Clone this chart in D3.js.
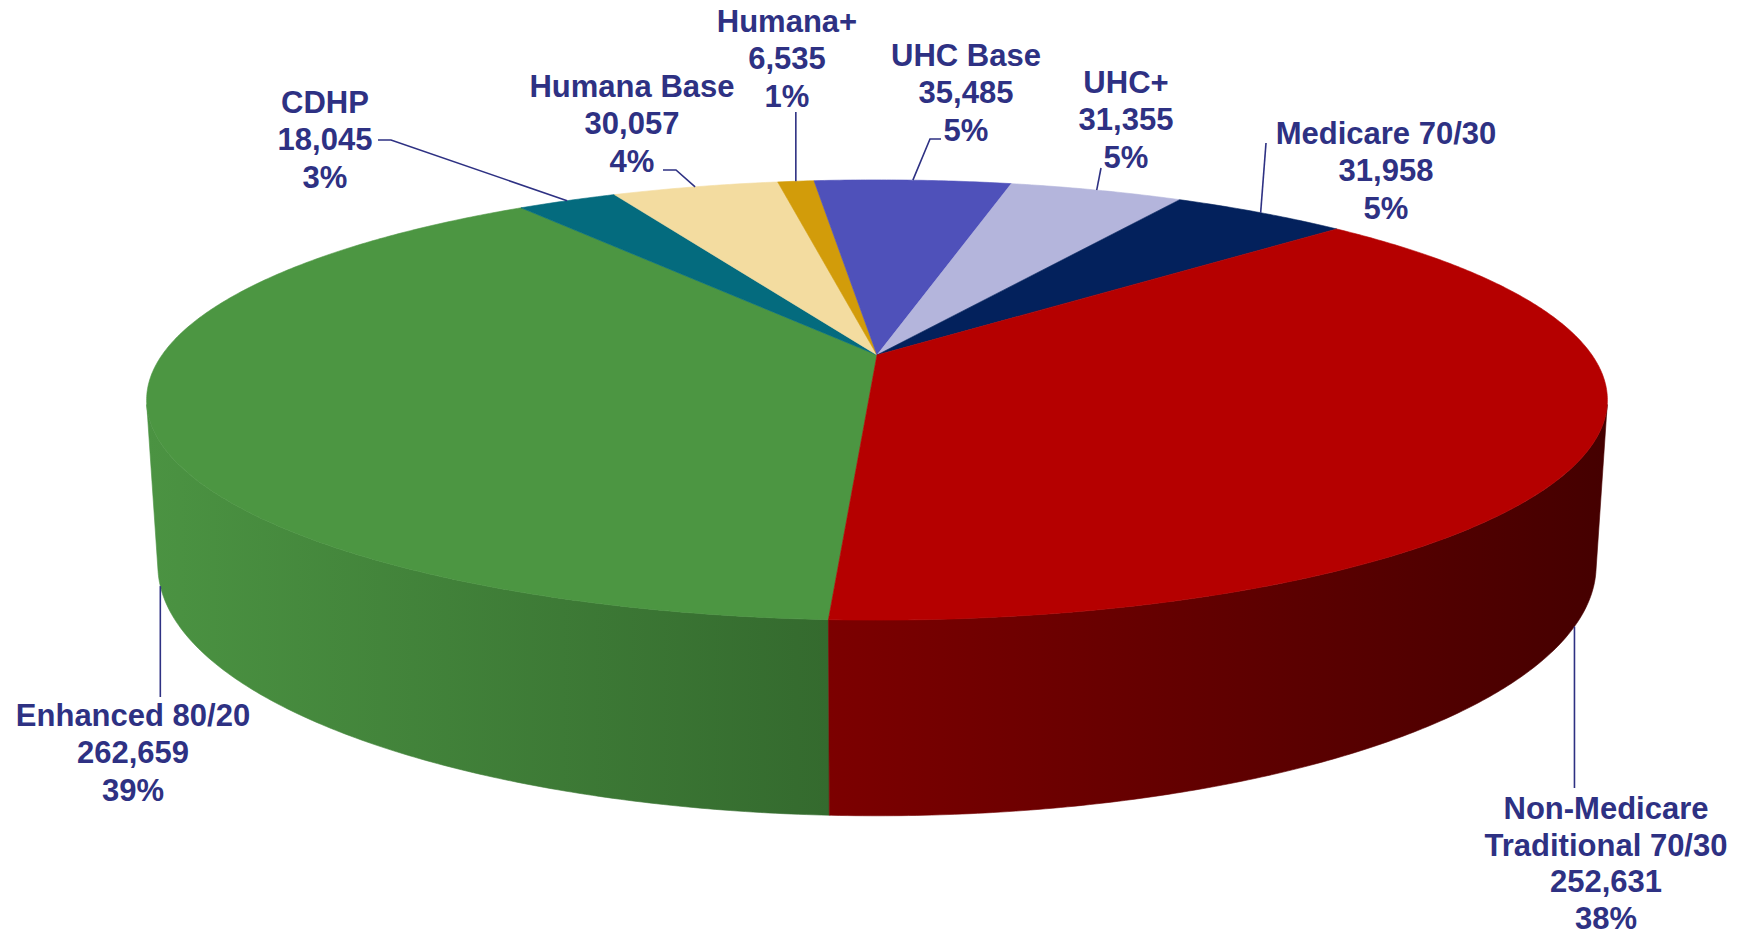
<!DOCTYPE html>
<html>
<head>
<meta charset="utf-8">
<script src="https://cdn.jsdelivr.net/npm/d3@7"></script>
<style>
  body { margin: 0; background: #fff; }
  text { font-family: "Liberation Sans", Arial, sans-serif; font-weight: bold; font-size: 31px; fill: #2e3183; }
</style>
</head>
<body>
<svg id="chart" width="1748" height="939"></svg>
<script>
// data, in the order the slices run clockwise
var categories = ["Enhanced 80/20", "CDHP", "Humana Base", "Humana+", "UHC Base", "UHC+", "Medicare 70/30", "Non-Medicare\nTraditional 70/30"];
var members = [262659, 18045, 30057, 6535, 35485, 31355, 31958, 252631];
var topColors = ["#4c9642", "#046b7e", "#f3dca0", "#d29c0a", "#4f51ba", "#b4b5dc", "#03215c", "#b50000"];
var sideColors = [["#4b9342", "#346a2e"], ["#03505f", "#03505f"], ["#c9b57f", "#c9b57f"], ["#a67a06", "#a67a06"],
                  ["#3b3d8f", "#3b3d8f"], ["#8c8db0", "#8c8db0"], ["#021845", "#021845"], ["#7c0000", "#450000"]];

// label layout: centre x and centre y of the first line
var labelPos = [[133, 715], [325, 102], [632, 86], [787, 21], [966, 55], [1126, 82], [1386, 133], [1606, 808]];
// leader lines: extra points from the label side, or a vertical drop to y
var leaders = [{vert: 697}, {pts: [[378, 140], [391, 140]]}, {pts: [[663, 170], [676, 170]]}, {vert: 112},
               {pts: [[941, 139], [930, 139]]}, {pts: [[1101, 168]]}, {pts: [[1266, 143]]}, {vert: 788}];

var startDeg = 183.1;
var lineGap = 37.3;

// simple perspective camera for the 3d pie
var cam = {d: 4.673, sin: 0.295, F: 3341, cx: 877, cy: 355, h: 0.238};
cam.cos = Math.sqrt(1 - cam.sin * cam.sin);

function project(theta, r, y) {
    var X = r * Math.sin(theta), Z = -r * Math.cos(theta);
    var depth = cam.d - y * cam.sin - Z * cam.cos;
    var up = y * cam.cos - Z * cam.sin;
    return [cam.cx + cam.F * X / depth, cam.cy - cam.F * up / depth];
}

function arcPts(a0, a1, y) {
    var step = Math.PI / 360;
    var pts = d3.range(a0, a1, step).concat([a1]);
    return pts.map(function(t) { return project(t, 1, y); });
}

var svg = d3.select("#chart");
var defs = svg.append("defs");
var line = d3.line();

var total = d3.sum(members);
var start = startDeg * Math.PI / 180;
var arcs = d3.pie().sort(null).startAngle(start).endAngle(start + 2 * Math.PI)(members);

// visible part of the wall
var zMin = 1 / (cam.d * cam.cos);
var visA = Math.acos(-zMin), visB = 2 * Math.PI - Math.acos(-zMin);

var sides = svg.append("g");
arcs.forEach(function(a, i) {
    [0, 2 * Math.PI].forEach(function(off) {
        var a0 = Math.max(a.startAngle, visA + off), a1 = Math.min(a.endAngle, visB + off);
        if (a1 <= a0) return;
        var topEdge = arcPts(a0, a1, 0);
        var botEdge = arcPts(a0, a1, -cam.h).reverse();
        var xs = topEdge.concat(botEdge).map(function(p) { return p[0]; });
        var gid = "side" + i + "_" + (off ? 1 : 0);
        var g = defs.append("linearGradient").attr("id", gid)
            .attr("gradientUnits", "userSpaceOnUse")
            .attr("x1", d3.min(xs)).attr("x2", d3.max(xs)).attr("y1", 0).attr("y2", 0);
        g.append("stop").attr("offset", 0).attr("stop-color", sideColors[i][0]);
        g.append("stop").attr("offset", 1).attr("stop-color", sideColors[i][1]);
        sides.append("path")
            .attr("d", line(topEdge.concat(botEdge)) + "Z")
            .attr("fill", "url(#" + gid + ")")
            .attr("stroke", "url(#" + gid + ")")
            .attr("stroke-width", 0.6);
    });
});

// top face
var apex = project(0, 0, 0);
svg.append("g").selectAll("path")
    .data(arcs)
    .enter().append("path")
      .attr("d", function(a) { return line([apex].concat(arcPts(a.startAngle, a.endAngle, 0))) + "Z"; })
      .attr("fill", function(a, i) { return topColors[i]; })
      .attr("stroke", function(a, i) { return topColors[i]; })
      .attr("stroke-width", 0.6);

// leader lines
var fmt = d3.format(",");
var pct = d3.format(".0%");
var lead = svg.append("g").attr("fill", "none").attr("stroke", "#2e3183").attr("stroke-width", 1.6);
arcs.forEach(function(a, i) {
    var mid = (a.startAngle + a.endAngle) / 2;
    var front = -Math.cos(mid) > zMin;
    var anchor = project(mid, 1, front ? -cam.h : 0);
    var pts;
    if (leaders[i].vert !== undefined) pts = [[anchor[0], leaders[i].vert], anchor];
    else pts = leaders[i].pts.concat([anchor]);
    lead.append("path").attr("d", line(pts));
});

// labels
arcs.forEach(function(a, i) {
    var rows = categories[i].split("\n").concat([fmt(members[i]), pct(members[i] / total)]);
    var gap = rows.length > 3 ? 36.5 : lineGap;
    var t = svg.append("text").attr("text-anchor", "middle");
    rows.forEach(function(r, k) {
        t.append("tspan")
            .attr("x", labelPos[i][0])
            .attr("y", labelPos[i][1] + k * gap)
            .attr("dy", "0.36em")
            .text(r);
    });
});
</script>
</body>
</html>
